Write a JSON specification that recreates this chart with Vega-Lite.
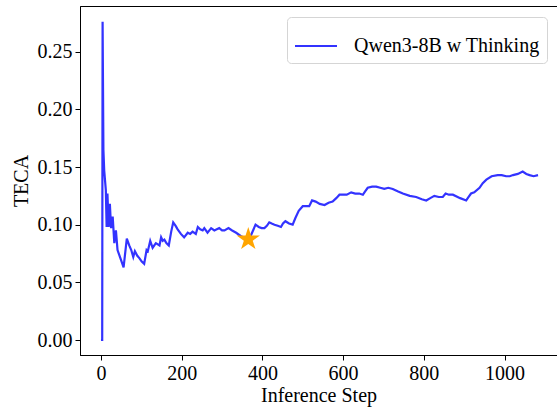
{
  "$schema": "https://vega.github.io/schema/vega-lite/v6.json",
  "width": 477,
  "height": 349,
  "autosize": {"type": "none"},
  "padding": {"left": 80, "top": 6, "right": 0, "bottom": 52},
  "background": "white",
  "config": {
    "view": {"stroke": "black", "strokeWidth": 1},
    "font": "Liberation Serif",
    "axis": {
      "labelFont": "Liberation Serif",
      "titleFont": "Liberation Serif",
      "labelFontSize": 20,
      "titleFontSize": 20,
      "titleFontWeight": "normal",
      "labelColor": "black",
      "titleColor": "black",
      "domainColor": "black",
      "tickColor": "black",
      "tickSize": 5,
      "grid": false
    },
    "legend": {
      "labelFont": "Liberation Serif",
      "labelFontSize": 20,
      "labelColor": "black",
      "labelLimit": 400
    }
  },
  "datasets": {
    "line": [
      {"step": 0, "teca": 0}, {"step": 2, "teca": 0}, {"step": 3, "teca": 0},
      {"step": 4, "teca": 0.276}, {"step": 6, "teca": 0.165}, {"step": 8, "teca": 0.147},
      {"step": 12, "teca": 0.130}, {"step": 14, "teca": 0.098}, {"step": 16, "teca": 0.127},
      {"step": 19, "teca": 0.098}, {"step": 22, "teca": 0.118}, {"step": 25, "teca": 0.097},
      {"step": 29, "teca": 0.107}, {"step": 33, "teca": 0.084}, {"step": 37, "teca": 0.095},
      {"step": 41, "teca": 0.078}, {"step": 45, "teca": 0.074}, {"step": 50, "teca": 0.069},
      {"step": 56, "teca": 0.063}, {"step": 64, "teca": 0.088}, {"step": 70, "teca": 0.082},
      {"step": 75, "teca": 0.078}, {"step": 80, "teca": 0.072}, {"step": 84, "teca": 0.077},
      {"step": 90, "teca": 0.073}, {"step": 95, "teca": 0.071}, {"step": 101, "teca": 0.068},
      {"step": 107, "teca": 0.066}, {"step": 113, "teca": 0.078}, {"step": 116, "teca": 0.077},
      {"step": 122, "teca": 0.086}, {"step": 128, "teca": 0.080}, {"step": 136, "teca": 0.084},
      {"step": 145, "teca": 0.082}, {"step": 149, "teca": 0.089}, {"step": 153, "teca": 0.086},
      {"step": 157, "teca": 0.087}, {"step": 162, "teca": 0.084}, {"step": 168, "teca": 0.082},
      {"step": 174, "teca": 0.094}, {"step": 179, "teca": 0.102}, {"step": 185, "teca": 0.099},
      {"step": 190, "teca": 0.096}, {"step": 198, "teca": 0.092}, {"step": 206, "teca": 0.089},
      {"step": 215, "teca": 0.093}, {"step": 221, "teca": 0.092}, {"step": 227, "teca": 0.094},
      {"step": 235, "teca": 0.092}, {"step": 240, "teca": 0.098}, {"step": 246, "teca": 0.096},
      {"step": 252, "teca": 0.095}, {"step": 256, "teca": 0.097}, {"step": 264, "teca": 0.093},
      {"step": 273, "teca": 0.097}, {"step": 281, "teca": 0.095}, {"step": 287, "teca": 0.096},
      {"step": 293, "teca": 0.097}, {"step": 300, "teca": 0.095}, {"step": 306, "teca": 0.095},
      {"step": 316, "teca": 0.097}, {"step": 325, "teca": 0.095}, {"step": 335, "teca": 0.093},
      {"step": 347, "teca": 0.090}, {"step": 360, "teca": 0.088}, {"step": 372, "teca": 0.091},
      {"step": 383, "teca": 0.100}, {"step": 391, "teca": 0.098}, {"step": 398, "teca": 0.097},
      {"step": 405, "teca": 0.097}, {"step": 411, "teca": 0.099}, {"step": 417, "teca": 0.102},
      {"step": 423, "teca": 0.101}, {"step": 430, "teca": 0.100}, {"step": 438, "teca": 0.099},
      {"step": 446, "teca": 0.098}, {"step": 451, "teca": 0.101}, {"step": 457, "teca": 0.103},
      {"step": 466, "teca": 0.101}, {"step": 475, "teca": 0.100}, {"step": 482, "teca": 0.106},
      {"step": 490, "teca": 0.112}, {"step": 500, "teca": 0.116}, {"step": 508, "teca": 0.116},
      {"step": 516, "teca": 0.116}, {"step": 523, "teca": 0.121}, {"step": 532, "teca": 0.120},
      {"step": 542, "teca": 0.118}, {"step": 554, "teca": 0.117}, {"step": 564, "teca": 0.119},
      {"step": 574, "teca": 0.120}, {"step": 583, "teca": 0.123}, {"step": 591, "teca": 0.126},
      {"step": 600, "teca": 0.126}, {"step": 609, "teca": 0.126}, {"step": 620, "teca": 0.128},
      {"step": 630, "teca": 0.127}, {"step": 640, "teca": 0.127}, {"step": 649, "teca": 0.126},
      {"step": 655, "teca": 0.129}, {"step": 661, "teca": 0.132}, {"step": 672, "teca": 0.133},
      {"step": 682, "teca": 0.133}, {"step": 692, "teca": 0.132}, {"step": 702, "teca": 0.131},
      {"step": 712, "teca": 0.132}, {"step": 723, "teca": 0.131}, {"step": 735, "teca": 0.129},
      {"step": 748, "teca": 0.127}, {"step": 765, "teca": 0.125}, {"step": 781, "teca": 0.124},
      {"step": 795, "teca": 0.122}, {"step": 806, "teca": 0.121}, {"step": 816, "teca": 0.123},
      {"step": 826, "teca": 0.125}, {"step": 837, "teca": 0.124}, {"step": 847, "teca": 0.124},
      {"step": 854, "teca": 0.127}, {"step": 862, "teca": 0.126}, {"step": 872, "teca": 0.126},
      {"step": 890, "teca": 0.123}, {"step": 905, "teca": 0.121}, {"step": 911, "teca": 0.124},
      {"step": 917, "teca": 0.127}, {"step": 925, "teca": 0.128}, {"step": 938, "teca": 0.132},
      {"step": 946, "teca": 0.136}, {"step": 955, "teca": 0.139}, {"step": 968, "teca": 0.142},
      {"step": 983, "teca": 0.143}, {"step": 993, "teca": 0.143}, {"step": 1004, "teca": 0.142},
      {"step": 1013, "teca": 0.142}, {"step": 1021, "teca": 0.143}, {"step": 1033, "teca": 0.144},
      {"step": 1045, "teca": 0.146}, {"step": 1054, "teca": 0.144}, {"step": 1062, "teca": 0.143},
      {"step": 1072, "teca": 0.142}, {"step": 1083, "teca": 0.143}
    ],
    "star": [{"step": 365, "teca": 0.0874}]
  },
  "layer": [
    {
      "data": {"name": "line"},
      "mark": {"type": "line", "strokeWidth": 2.2},
      "encoding": {
        "x": {
          "field": "step", "type": "quantitative",
          "scale": {"domain": [-52, 1130], "nice": false, "zero": false},
          "axis": {"title": "Inference Step", "values": [0, 200, 400, 600, 800, 1000], "format": "d", "labelPadding": 3, "titlePadding": 2}
        },
        "y": {
          "field": "teca", "type": "quantitative",
          "scale": {"domain": [-0.013, 0.2896], "nice": false, "zero": false},
          "axis": {"title": "TECA", "values": [0, 0.05, 0.1, 0.15, 0.2, 0.25], "format": ".2f", "labelPadding": 3, "titlePadding": 6}
        },
        "color": {
          "datum": "Qwen3-8B w Thinking",
          "type": "nominal",
          "scale": {"range": ["#3333ff"]},
          "legend": {
            "title": null,
            "orient": "none",
            "legendX": 207,
            "legendY": 11,
            "symbolType": "stroke",
            "symbolSize": 1764,
            "symbolStrokeWidth": 2,
            "labelOffset": 16,
            "labelLimit": 400,
            "padding": 7,
            "strokeColor": "#d5d5d5",
            "fillColor": "white",
            "cornerRadius": 4
          }
        }
      }
    },
    {
      "data": {"name": "star"},
      "mark": {
        "type": "point",
        "shape": "M0,-1L0.2245,-0.309L0.951,-0.309L0.363,0.118L0.588,0.809L0,0.382L-0.588,0.809L-0.363,0.118L-0.951,-0.309L-0.2245,-0.309Z",
        "filled": true, "color": "#ffa500", "opacity": 1, "size": 600
      },
      "encoding": {
        "x": {"field": "step", "type": "quantitative"},
        "y": {"field": "teca", "type": "quantitative"}
      }
    }
  ]
}
